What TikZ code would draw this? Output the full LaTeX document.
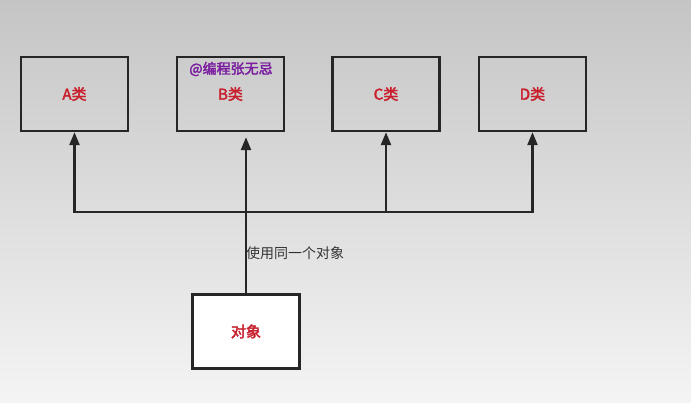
\documentclass[tikz,border=0pt]{standalone}
\usepackage{fontspec}
\setmainfont{Noto Sans CJK SC}[AutoFakeBold=2.5]
\usetikzlibrary{arrows.meta}
\definecolor{bgtop}{HTML}{C5C5C5}
\definecolor{bgmid}{HTML}{ECECEC}
\definecolor{bgbot}{HTML}{F4F4F4}
\definecolor{classred}{HTML}{C8202C}
\definecolor{markpurple}{HTML}{7B1FA0}
\definecolor{labelgray}{HTML}{333333}

\begin{document}
\begin{tikzpicture}[x=1pt, y=-1pt,
    classbox/.style={rectangle, draw=black!85, line width=2.4pt, minimum width=107pt, minimum height=74pt, inner sep=0pt, font=\bfseries\fontsize{15}{17}\selectfont, text=classred},
    uses/.style={draw=black!85, line width=2.4pt, -{Triangle[length=13pt, width=10pt]}}]
    \useasboundingbox (0, 0) rectangle (691, 402);
    \shade[top color=bgtop, middle color=bgmid, bottom color=bgbot] (0, 0) rectangle (691, 402);

    % Nodes
    \node[classbox] at (74.5, 94) (classA) {A类};
    \node[classbox] at (230.5, 94) (classB) {B类};
    \node[classbox] at (386, 94) (classC) {C类};
    \node[classbox] at (532.5, 94) (classD) {D类};
    \node[classbox, fill=white] at (246, 331.5) (obj) {对象};

    \node[font=\bfseries\fontsize{14}{16}\selectfont, text=markpurple] at (231, 69) (mark) {@编程张无忌};

    \coordinate (bus) at (246, 212);

    \draw[uses, shorten >=5pt] (obj.north) -- (obj.north |- classB.south);
    \draw[uses] (bus) -| (classA.south);
    \draw[uses] (bus) -| (classC.south);
    \draw[uses] (bus) -| (classD.south);

    \node[anchor=west, inner sep=0pt, text=labelgray, font=\fontsize{14}{16}\selectfont] at (246, 253) (shared) {使用同一个对象};

  \end{tikzpicture}
\end{document}
